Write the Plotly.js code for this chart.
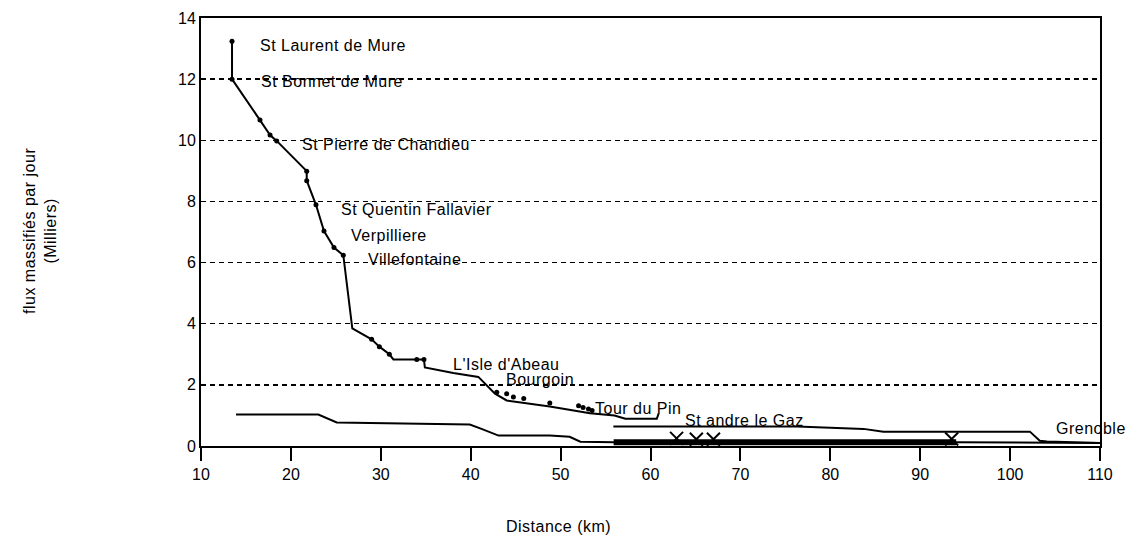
<!DOCTYPE html>
<html>
<head>
<meta charset="utf-8">
<script src="https://cdn.plot.ly/plotly-3.0.1.min.js"></script>
<style>
html,body{margin:0;padding:0;background:#fff;}
.annotation-text{letter-spacing:0.5px;}
</style>
</head>
<body>
<div id="chart" style="width:1135px;height:535px;"></div>
<script>
// Main flow curve (Lyon -> Grenoble), thousands
const mainX = [13.45, 13.45, 16.56, 17.68, 18.42, 21.76, 21.76, 22.79, 23.68, 24.79, 25.83, 26.83, 28.98, 29.84, 30.95, 31.4, 34.0, 34.8, 34.9, 38.06, 40.85, 42.7, 44.0, 48.8, 53.27, 56.0, 57.2, 60.7, 60.9];
const mainY = [13.24, 12.0, 10.66, 10.17, 9.98, 8.99, 8.68, 7.89, 7.03, 6.49, 6.24, 3.85, 3.49, 3.25, 3.0, 2.83, 2.83, 2.83, 2.57, 2.39, 2.26, 1.71, 1.49, 1.29, 1.07, 1.0, 0.89, 0.89, 1.06];
// Station markers along the main curve
const markX = [13.45, 13.45, 16.56, 17.68, 18.42, 21.76, 21.76, 22.79, 23.68, 24.79, 25.83, 28.98, 29.84, 30.95, 34.0, 34.8, 42.9, 44.0, 44.75, 45.9, 48.8, 52.0, 52.5, 53.1, 53.5];
const markY = [13.24, 12.0, 10.66, 10.17, 9.98, 8.99, 8.68, 7.89, 7.03, 6.49, 6.24, 3.49, 3.25, 3.0, 2.83, 2.83, 1.76, 1.71, 1.6, 1.55, 1.41, 1.32, 1.26, 1.21, 1.16];
// Second flow (St andre le Gaz -> Grenoble)
const secondX = [55.87, 76.3, 83.7, 85.9, 102.2, 103.3, 104.1, 110];
const secondY = [0.64, 0.64, 0.56, 0.47, 0.47, 0.17, 0.15, 0.1];
// Lower flow
const lowerX = [13.9, 23.05, 25.1, 35.1, 39.9, 41.2, 43.1, 48.8, 51.0, 52.2, 56.0, 94.0, 110];
const lowerY = [1.03, 1.03, 0.77, 0.72, 0.70, 0.56, 0.34, 0.34, 0.30, 0.14, 0.12, 0.12, 0.1];
// Thick base segment
const baseX = [55.9, 94.0];
const baseY = [0.12, 0.12];
// Cross markers
const crossX = [62.9, 65.1, 67.0, 93.5];
const crossY = [0.25, 0.22, 0.22, 0.23];
// Station labels
const stationNames = ["St Laurent de Mure", "St Bonnet de Mure", "St Pierre de Chandieu", "St Quentin Fallavier", "Verpilliere", "Villefontaine", "L'Isle d'Abeau", "Bourgoin", "Tour du Pin", "St andre le Gaz", "Grenoble"];
const stationX = [16.34, 16.5, 21.0, 25.35, 26.46, 28.35, 37.8, 43.7, 53.65, 63.6, 104.9];
const stationY = [13.09, 11.92, 9.87, 7.75, 6.9, 6.1, 2.68, 2.18, 1.24, 0.85, 0.56];

const xTicks = [10, 20, 30, 40, 50, 60, 70, 80, 90, 100, 110];
const yTicks = [0, 2, 4, 6, 8, 10, 12, 14];

const F = "Liberation Sans, Arial, Helvetica, sans-serif";

const traces = [
  {x: mainX, y: mainY, mode: 'lines', line: {color: '#000', width: 2}, hoverinfo: 'skip'},
  {x: markX, y: markY, mode: 'markers', marker: {color: '#000', size: 5, symbol: 'circle'}, hoverinfo: 'skip'},
  {x: secondX, y: secondY, mode: 'lines', line: {color: '#000', width: 2}, hoverinfo: 'skip'},
  {x: lowerX, y: lowerY, mode: 'lines', line: {color: '#000', width: 2}, hoverinfo: 'skip'},
  {x: baseX, y: baseY, mode: 'lines', line: {color: '#000', width: 6}, hoverinfo: 'skip'},
  {x: crossX, y: crossY, mode: 'markers', marker: {symbol: 'x-thin-open', size: 13, color: '#000', line: {color: '#000', width: 2}}, hoverinfo: 'skip'}
];

const annotations = stationNames.map((t, i) => ({
  x: stationX[i], y: stationY[i], xref: 'x', yref: 'y', text: t,
  showarrow: false, xanchor: 'left', yanchor: 'middle',
  font: {family: F, size: 16, color: '#000'}
}));
annotations.push({
  xref: 'paper', yref: 'paper', x: (558 - 201) / 899, y: -(526 - 446) / 428,
  text: 'Distance (km)', showarrow: false, xanchor: 'center', yanchor: 'middle',
  font: {family: F, size: 16, color: '#000'}
});
annotations.push({
  xref: 'paper', yref: 'paper', x: (40 - 201) / 899, y: (446 - 231) / 428,
  text: 'flux massifiés par jour<br>(Milliers)', showarrow: false, textangle: -90,
  xanchor: 'center', yanchor: 'middle',
  font: {family: F, size: 16, color: '#000'}
});

const layout = {
  width: 1135, height: 535,
  margin: {l: 201, r: 35, t: 18, b: 89},
  paper_bgcolor: '#fff', plot_bgcolor: '#fff',
  showlegend: false,
  font: {family: F, color: '#000'},
  xaxis: {
    range: [10, 110], tickvals: xTicks, ticktext: xTicks.map(String),
    showgrid: false, zeroline: false,
    showline: true, linecolor: '#000', linewidth: 2, mirror: true,
    ticks: 'outside', ticklen: 13, tickwidth: 2, tickcolor: '#000',
    tickfont: {family: F, size: 16, color: '#000'}, ticklabelstandoff: 0
  },
  yaxis: {
    range: [0, 14], tickvals: yTicks, ticktext: yTicks.map(String),
    showgrid: true, gridcolor: '#000', gridwidth: 1.5, griddash: '5px,4px',
    zeroline: false,
    showline: true, linecolor: '#000', linewidth: 2, mirror: true,
    ticks: '', tickfont: {family: F, size: 16, color: '#000'}
  },
  annotations: annotations
};

Plotly.newPlot('chart', traces, layout, {staticPlot: true, displayModeBar: false});
</script>
</body>
</html>
